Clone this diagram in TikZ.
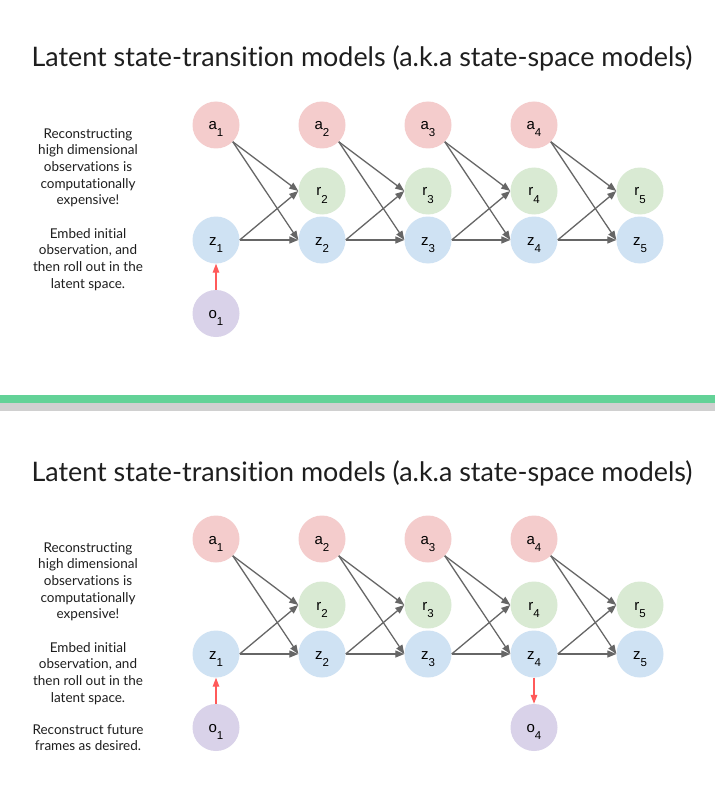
\documentclass[tikz,border=0pt]{standalone}
\usepackage{fontspec}
\setmainfont[Ligatures=NoCommon]{Lato}
\newfontfamily\arialfont{Liberation Sans}
\usetikzlibrary{arrows.meta}
\definecolor{apink}{HTML}{F4CCCC}
\definecolor{rgreen}{HTML}{D9EAD3}
\definecolor{zblue}{HTML}{CFE2F3}
\definecolor{opurple}{HTML}{D9D2E9}
\definecolor{arrgray}{HTML}{666666}
\definecolor{arrred}{HTML}{FF5A5A}
\definecolor{bargreen}{HTML}{63D297}
\definecolor{barshadow}{HTML}{D0D0D0}
\definecolor{txt}{HTML}{1E1E1E}
\newcommand\lab[2]{#1\raisebox{-7pt}{\fontsize{11.5}{11.5}\selectfont #2}}
\tikzset{
  var/.style={circle, minimum size=47pt, inner sep=0pt, font=\arialfont\fontsize{15}{15}\selectfont, text=black, text height=10pt, text depth=0pt},
  anode/.style={var, fill=apink},
  rnode/.style={var, fill=rgreen},
  znode/.style={var, fill=zblue},
  onode/.style={var, fill=opurple},
  garrow/.style={draw=arrgray, line width=1.3pt, -{Stealth[inset=0pt,length=9pt,width=7pt]}},
  rarrow/.style={draw=arrred, line width=1.3pt, -{Stealth[inset=0pt,length=9pt,width=6.5pt]}},
  titletext/.style={font=\fontsize{26.9}{26.9}\selectfont, text=txt, inner sep=0pt, anchor=base},
  sidetext/.style={font=\fontsize{13.5}{16.7}\selectfont, text=txt, inner sep=0pt, align=center, anchor=north}
}
\newcommand\drawpanel[2]{%
\begin{scope}[shift={(0,#2)}]
  \node[titletext] (#1title) at (362,67) {Latent state-transition models (a.k.a state-space models)};
  \node[sidetext] (#1p1) at (88,128) {Reconstructing\\high dimensional\\observations is\\computationally\\expensive!};
  \node[sidetext] (#1p2) at (88,228) {Embed initial\\observation, and\\then roll out in the\\latent space.};
  \node[anode] (#1a1) at (216,125) {\lab{a}{1}};
  \node[anode] (#1a2) at (322,125) {\lab{a}{2}};
  \node[anode] (#1a3) at (428,125) {\lab{a}{3}};
  \node[anode] (#1a4) at (534,125) {\lab{a}{4}};
  \node[rnode] (#1r2) at (322,191) {\lab{r}{2}};
  \node[rnode] (#1r3) at (428,191) {\lab{r}{3}};
  \node[rnode] (#1r4) at (534,191) {\lab{r}{4}};
  \node[rnode] (#1r5) at (640,191) {\lab{r}{5}};
  \node[znode] (#1z1) at (216,240) {\lab{z}{1}};
  \node[znode] (#1z2) at (322,240) {\lab{z}{2}};
  \node[znode] (#1z3) at (428,240) {\lab{z}{3}};
  \node[znode] (#1z4) at (534,240) {\lab{z}{4}};
  \node[znode] (#1z5) at (640,240) {\lab{z}{5}};
  \node[onode] (#1o1) at (216,313.5) {\lab{o}{1}};
  \foreach \i/\j in {1/2,2/3,3/4,4/5}{
    \draw[garrow] (#1a\i.south east) -- (#1r\j.west);
    \draw[garrow] (#1a\i.south east) -- (#1z\j.west);
    \draw[garrow] (#1z\i.east) -- (#1r\j.west);
    \draw[garrow] (#1z\i.east) -- (#1z\j.west);
  }
  \draw[rarrow] (#1o1.north) -- (#1z1.south);
\end{scope}}
\begin{document}
\begin{tikzpicture}[x=1pt,y=-1pt]
\useasboundingbox (0,0) rectangle (715,805);
\fill[white] (0,0) rectangle (715,805);
\drawpanel{t}{0}
\drawpanel{b}{414}
\begin{scope}[shift={(0,414)}]
  \node[sidetext] (bp3) at (88,310) {Reconstruct future\\frames as desired.};
  \node[onode] (bo4) at (534,313.5) {\lab{o}{4}};
  \draw[rarrow] (bz4.south) -- (bo4.north);
\end{scope}
\fill[barshadow] (0,403) rectangle (715,411);
\fill[bargreen] (0,395) rectangle (715,403);
\end{tikzpicture}
\end{document}
